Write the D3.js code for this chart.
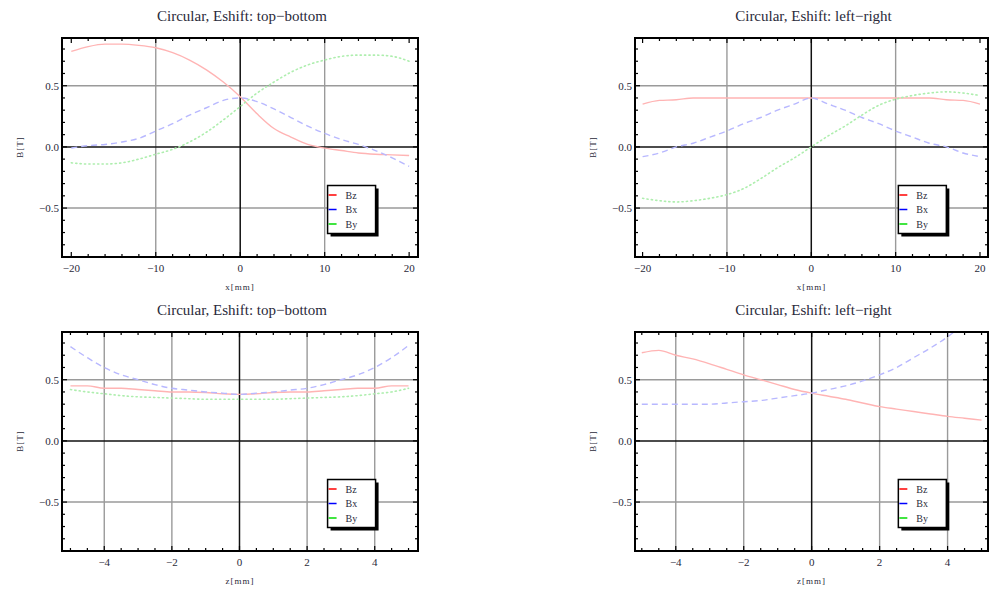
<!DOCTYPE html>
<html>
<head>
<meta charset="utf-8">
<script src="https://cdn.jsdelivr.net/npm/d3@7"></script>
<style>
  html, body { margin: 0; padding: 0; background: #fff; }
  svg { display: block; }
  text { font-family: "Liberation Serif", "DejaVu Serif", serif; fill: #2a2a3a; }
</style>
</head>
<body>
<svg id="chart" width="994" height="589"></svg>
<script>
// Sampling positions
const xPos = [-20,-18,-16,-14,-12,-10,-8,-6,-4,-2,0,2,4,6,8,10,12,14,16,18,20];
const zPos = [-5,-4.5,-4,-3.5,-3,-2.5,-2,-1.5,-1,-0.5,0,0.5,1,1.5,2,2.5,3,3.5,4,4.5,5];

// Transverse scan, Eshift top-bottom
const tbX_Bz = [0.78,0.82,0.84,0.84,0.83,0.81,0.77,0.71,0.63,0.53,0.41,0.27,0.15,0.08,0.02,-0.01,-0.03,-0.05,-0.06,-0.065,-0.07];
const tbX_Bx = [-0.01,0.01,0.02,0.04,0.07,0.13,0.19,0.26,0.32,0.38,0.40,0.37,0.31,0.24,0.17,0.11,0.06,0.02,-0.03,-0.09,-0.16];
const tbX_By = [-0.13,-0.14,-0.14,-0.13,-0.10,-0.06,-0.02,0.04,0.12,0.22,0.33,0.44,0.53,0.61,0.67,0.71,0.74,0.75,0.75,0.74,0.70];

// Transverse scan, Eshift left-right
const lrX_Bz = [0.35,0.38,0.385,0.40,0.40,0.40,0.40,0.40,0.40,0.40,0.40,0.40,0.40,0.40,0.40,0.40,0.40,0.40,0.385,0.38,0.35];
const lrX_Bx = [-0.08,-0.05,0.00,0.03,0.08,0.13,0.19,0.24,0.30,0.35,0.40,0.35,0.30,0.24,0.19,0.13,0.08,0.03,0.00,-0.05,-0.08];
const lrX_By = [-0.42,-0.44,-0.45,-0.44,-0.42,-0.39,-0.34,-0.26,-0.17,-0.09,0.00,0.09,0.17,0.26,0.34,0.39,0.42,0.44,0.45,0.44,0.42];

// Longitudinal scan, Eshift top-bottom
const tbZ_Bz = [0.45,0.45,0.43,0.43,0.42,0.41,0.40,0.40,0.395,0.385,0.38,0.385,0.395,0.40,0.40,0.41,0.42,0.43,0.43,0.45,0.45];
const tbZ_Bx = [0.77,0.68,0.60,0.54,0.50,0.46,0.43,0.415,0.40,0.39,0.38,0.39,0.40,0.415,0.43,0.46,0.50,0.54,0.60,0.68,0.78];
const tbZ_By = [0.42,0.40,0.385,0.37,0.36,0.355,0.35,0.345,0.34,0.34,0.34,0.34,0.34,0.345,0.35,0.355,0.36,0.37,0.385,0.40,0.43];

// Longitudinal scan, Eshift left-right
const lrZ_Bz = [0.72,0.74,0.70,0.67,0.63,0.585,0.54,0.50,0.46,0.42,0.39,0.365,0.34,0.31,0.28,0.26,0.24,0.22,0.20,0.185,0.17];
const lrZ_Bx = [0.30,0.30,0.30,0.30,0.30,0.31,0.32,0.33,0.35,0.37,0.39,0.42,0.45,0.49,0.54,0.60,0.68,0.76,0.85,0.96,1.08];

// Axis ticks and labels
const xMajor = [-20,-10,0,10,20];
const zMajor = [-4,-2,0,2,4];
const yMajor = [-0.5,0,0.5];
const titles = ["Circular, Eshift: top\u2212bottom", "Circular, Eshift: left\u2212right"];
const legendNames = ["Bz","Bx","By"];
const legendColors = ["#ff0000","#0000ff","#00dd00"];

const seriesStyle = {
  Bz: {stroke: "#ffb4b4", dash: null, width: 1.4},
  Bx: {stroke: "#b8b8ff", dash: "6,4", width: 1.4},
  By: {stroke: "#aeeeae", dash: "1.2,3.2", width: 1.6}
};

const panels = [
  {box: [62, 418, 38, 257], xd: [-21.1, 21.05], pos: xPos, major: xMajor, minorStep: 2, edge: 20, xlabel: "x[mm]", title: titles[0],
   series: [["Bz", tbX_Bz], ["Bx", tbX_Bx], ["By", tbX_By]]},
  {box: [635, 988, 38, 257], xd: [-20.9, 20.95], pos: xPos, major: xMajor, minorStep: 2, edge: 20, xlabel: "x[mm]", title: titles[1],
   series: [["Bz", lrX_Bz], ["Bx", lrX_Bx], ["By", lrX_By]]},
  {box: [62, 418, 332, 551], xd: [-5.25, 5.28], pos: zPos, major: zMajor, minorStep: 0.5, edge: null, xlabel: "z[mm]", title: titles[0],
   series: [["Bz", tbZ_Bz], ["Bx", tbZ_Bx], ["By", tbZ_By]]},
  {box: [635, 988, 332, 551], xd: [-5.2, 5.19], pos: zPos, major: zMajor, minorStep: 0.5, edge: null, xlabel: "z[mm]", title: titles[1],
   series: [["Bz", lrZ_Bz], ["Bx", lrZ_Bx]]}
];

const svg = d3.select("#chart");
const yDomain = [-0.9, 0.89];

function rangeSteps(lo, hi, step) {
  const out = [];
  const start = Math.ceil(lo / step - 1e-9);
  const end = Math.floor(hi / step + 1e-9);
  for (let i = start; i <= end; i++) out.push(+(i * step).toFixed(6));
  return out;
}
const fmtY = v => (v < 0 ? "\u2212" : "") + Math.abs(v).toFixed(1);
const fmtX = v => (v < 0 ? "\u2212" : "") + Math.abs(v);

panels.forEach((p, i) => {
  const [L, R, T, B] = p.box;
  const x = d3.scaleLinear().domain(p.xd).range([L, R]);
  const y = d3.scaleLinear().domain(yDomain).range([B, T]);
  const g = svg.append("g");

  const clipId = "clip" + i;
  g.append("clipPath").attr("id", clipId)
    .append("rect").attr("x", L).attr("y", T).attr("width", R - L).attr("height", B - T);

  // grid lines (none on the outermost labelled values)
  p.major.filter(v => v !== 0 && Math.abs(v) !== p.edge).forEach(v => {
    g.append("line").attr("x1", x(v)).attr("x2", x(v)).attr("y1", T).attr("y2", B)
      .attr("stroke", "#9a9a9a").attr("stroke-width", 1.4);
  });
  yMajor.filter(v => v !== 0).forEach(v => {
    g.append("line").attr("x1", L).attr("x2", R).attr("y1", y(v)).attr("y2", y(v))
      .attr("stroke", "#9a9a9a").attr("stroke-width", 1.4);
  });
  // zero lines
  g.append("line").attr("x1", x(0)).attr("x2", x(0)).attr("y1", T).attr("y2", B)
    .attr("stroke", "#111").attr("stroke-width", 1.5);
  g.append("line").attr("x1", L).attr("x2", R).attr("y1", y(0)).attr("y2", y(0))
    .attr("stroke", "#111").attr("stroke-width", 1.5);

  // curves
  const line = d3.line().x(d => x(d[0])).y(d => y(d[1])).curve(d3.curveMonotoneX);
  const curves = g.append("g").attr("clip-path", `url(#${clipId})`);
  p.series.forEach(([name, vals]) => {
    const st = seriesStyle[name];
    curves.append("path")
      .datum(p.pos.map((v, k) => [v, vals[k]]))
      .attr("d", line)
      .attr("fill", "none")
      .attr("stroke", st.stroke)
      .attr("stroke-width", st.width)
      .attr("stroke-dasharray", st.dash)
      .attr("stroke-linecap", name === "By" ? "round" : "butt");
  });

  // frame ticks (inward on all sides)
  const xMinor = rangeSteps(p.xd[0], p.xd[1], p.minorStep);
  const yMinor = rangeSteps(yDomain[0], yDomain[1], 0.1);
  xMinor.forEach(v => {
    const len = p.major.includes(v) || Math.abs(v) === p.edge ? 5 : 3;
    g.append("line").attr("x1", x(v)).attr("x2", x(v)).attr("y1", B).attr("y2", B - len).attr("stroke", "#000").attr("stroke-width", 1.2);
    g.append("line").attr("x1", x(v)).attr("x2", x(v)).attr("y1", T).attr("y2", T + len).attr("stroke", "#000").attr("stroke-width", 1.2);
  });
  yMinor.forEach(v => {
    const len = yMajor.some(m => Math.abs(m - v) < 1e-6) ? 5 : 3;
    g.append("line").attr("x1", L).attr("x2", L + len).attr("y1", y(v)).attr("y2", y(v)).attr("stroke", "#000").attr("stroke-width", 1.2);
    g.append("line").attr("x1", R).attr("x2", R - len).attr("y1", y(v)).attr("y2", y(v)).attr("stroke", "#000").attr("stroke-width", 1.2);
  });

  // frame
  g.append("rect").attr("x", L).attr("y", T).attr("width", R - L).attr("height", B - T)
    .attr("fill", "none").attr("stroke", "#000").attr("stroke-width", 2);

  // tick labels
  p.major.forEach(v => {
    g.append("text").attr("x", x(v)).attr("y", B + 14.5).attr("text-anchor", "middle")
      .attr("font-size", 11).text(fmtX(v));
  });
  yMajor.forEach(v => {
    g.append("text").attr("x", L - 3).attr("y", y(v) + 4).attr("text-anchor", "end")
      .attr("font-size", 11).text(fmtY(v));
  });

  // axis labels and title
  g.append("text").attr("x", (L + R) / 2).attr("y", B + 32.5).attr("text-anchor", "middle")
    .attr("font-size", 9).attr("letter-spacing", 1).attr("fill", "#555566").text(p.xlabel);
  g.append("text").attr("transform", `translate(${L - 39},${y(0)}) rotate(-90)`)
    .attr("text-anchor", "middle").attr("font-size", 9).attr("letter-spacing", 1)
    .attr("fill", "#555566").text("B[T]");
  g.append("text").attr("x", (L + R) / 2 + 2).attr("y", T - 17).attr("text-anchor", "middle")
    .attr("font-size", 15).attr("fill", "#1a1a2a").text(p.title);

  // legend
  const lx = L + 0.746 * (R - L), ly = T + 147.5, lw = 48, lh = 48;
  g.append("rect").attr("x", lx + 3).attr("y", ly + 3).attr("width", lw).attr("height", lh).attr("fill", "#000");
  g.append("rect").attr("x", lx).attr("y", ly).attr("width", lw).attr("height", lh)
    .attr("fill", "#fff").attr("stroke", "#000").attr("stroke-width", 1.5);
  legendNames.forEach((n, k) => {
    const yy = ly + 9.5 + k * 14.5;
    g.append("line").attr("x1", lx + 1).attr("x2", lx + 9).attr("y1", yy).attr("y2", yy)
      .attr("stroke", legendColors[k]).attr("stroke-width", 1.5);
    g.append("text").attr("x", lx + 18).attr("y", yy + 3.5).attr("font-size", 10).text(n);
  });
});
</script>
</body>
</html>
